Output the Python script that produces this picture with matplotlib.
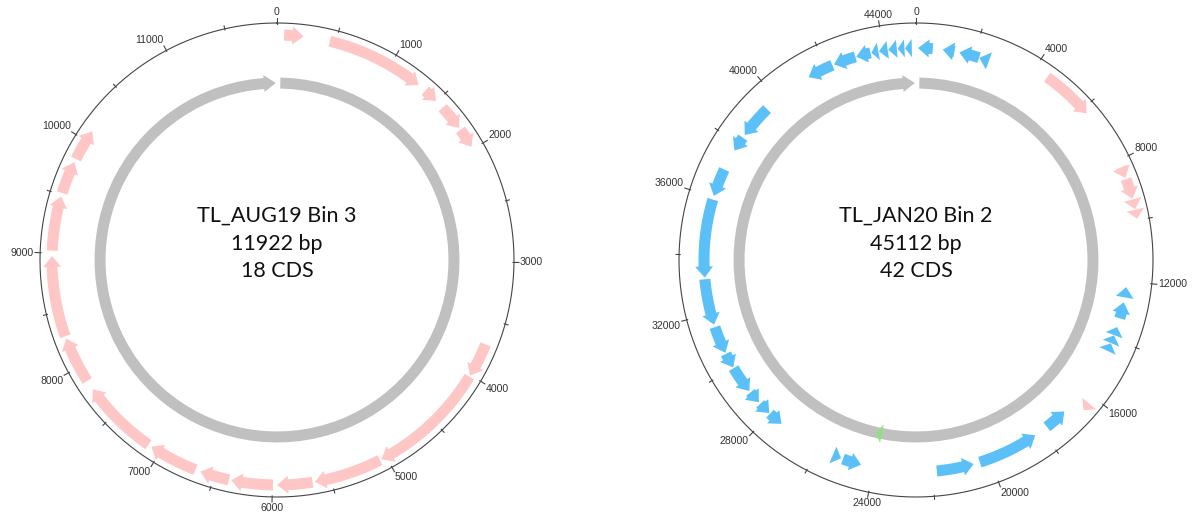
import numpy as np
import matplotlib
matplotlib.use("Agg")
import matplotlib.pyplot as plt

# TL_AUG19 Bin 3
aug_len = 11922
aug_start = [60, 450, 1365, 1570, 1810, 3710, 4015, 5060, 5660, 5995, 6370,
             6665, 7115, 7865, 8285, 9020, 9515, 9825]
aug_end = [225, 1290, 1490, 1790, 1980, 4005, 5045, 5640, 5960, 6350, 6620,
           7085, 7780, 8265, 8975, 9485, 9795, 10095]
aug_strand = [1] * 18

# TL_JAN20 Bin 2
jan_len = 45112
jan_start = [4470, 8230, 8640, 9320, 9660, 16250,
             70, 910, 1480, 2180,
             12200, 12720, 13590, 13890, 14180,
             16990, 18270, 20580, 24440, 25150,
             27490, 28040, 28550, 29050, 30020, 30580, 31610, 33240, 36040,
             37730, 38360,
             41300, 42260, 43060, 43590, 43850, 44170, 44490, 44740]
jan_end = [6180, 8600, 9300, 9640, 9950, 16520,
           570, 1310, 2170, 2520,
           12550, 13280, 13880, 14170, 14460,
           17780, 20360, 21850, 25080, 25450,
           28010, 28480, 28990, 29990, 30540, 31520, 33180, 35910, 37000,
           38250, 39520,
           42200, 43030, 43560, 43830, 44150, 44460, 44720, 44970]
jan_strand = [1] * 6 + [-1] * 33
jan_rna = (23950, 24180)

aug_title = ["TL_AUG19 Bin 3", "11922 bp", "18 CDS"]
jan_title = ["TL_JAN20 Bin 2", "45112 bp", "42 CDS"]

PINK = "#ffc6c6"
BLUE = "#5ac0f7"
GREY = "#c0c0c0"
GREEN = "#8ee27e"

R_OUT = 237
R_FWD = 225
R_REV = 212
R_RING = 177


def arrow(ax, a0, a1, strand, r, w, hw, hl, color):
    # curved arrow between angles a0 < a1 (radians, clockwise from top)
    ha = hl / r
    if strand > 0:
        tip = a1
        base = max(a1 - ha, a0)
        body = np.linspace(a0, base, 90)
    else:
        tip = a0
        base = min(a0 + ha, a1)
        body = np.linspace(base, a1, 90)[::-1]
    th = list(body) + [base, tip, base] + list(body[::-1])
    rr = [r + w / 2] * 90 + [r + hw / 2, r, r - hw / 2] + [r - w / 2] * 90
    th = np.array(th)
    rr = np.array(rr)
    ax.fill(rr * np.sin(th), rr * np.cos(th), color=color, lw=0)


def genome_map(ax, length, starts, ends, strands, title, major, minor):
    ax.set_xlim(-259, 259)
    ax.set_ylim(-259, 259)
    ax.set_axis_off()
    k = 2 * np.pi / length

    t = np.linspace(0, 2 * np.pi, 361)
    ax.plot(R_OUT * np.sin(t), R_OUT * np.cos(t), color="#444444", lw=0.8)

    for p in range(0, length, minor):
        a = p * k
        s, c = np.sin(a), np.cos(a)
        if p % major == 0:
            r0, r1 = R_OUT - 1, R_OUT + 5
        else:
            r0, r1 = R_OUT - 1, R_OUT + 3
        ax.plot([r0 * s, r1 * s], [r0 * c, r1 * c], color="#444444", lw=0.8)
        if p % major == 0:
            h = "left" if s > 0.25 else "right" if s < -0.25 else "center"
            v = "bottom" if c > 0.25 else "top" if c < -0.25 else "center"
            ax.text((R_OUT + 6) * s, (R_OUT + 6) * c, str(p), ha=h, va=v,
                    fontsize=7.6, family="Liberation Sans", color="#333333")

    # backbone ring
    arrow(ax, length * 0.003 * k, length * 0.999 * k, 1, R_RING, 11, 17, 12, GREY)

    for s, e, d in zip(starts, ends, strands):
        r = R_FWD if d > 0 else R_REV
        col = PINK if d > 0 else BLUE
        arrow(ax, s * k, e * k, d, r, 11, 18, 11, col)

    for i, line in enumerate(title):
        ax.text(0, 44 - 27.5 * i, line, ha="center", va="center",
                fontsize=15.5, family="Lato", color="#111111")
    return k


fig = plt.figure(figsize=(11.95, 5.21), dpi=100)
W, H = 1195, 521
ax1 = fig.add_axes([(277 - 259) / W, (H - 260 - 259) / H, 518 / W, 518 / H])
ax2 = fig.add_axes([(916 - 259) / W, (H - 260 - 259) / H, 518 / W, 518 / H])

genome_map(ax1, aug_len, aug_start, aug_end, aug_strand, aug_title, 1000, 500)
k = genome_map(ax2, jan_len, jan_start, jan_end, jan_strand, jan_title,
               4000, 2000)
arrow(ax2, jan_rna[0] * k, jan_rna[1] * k, 1, R_RING, 11, 19, 10, GREEN)

fig.savefig("out.png", dpi=100)
